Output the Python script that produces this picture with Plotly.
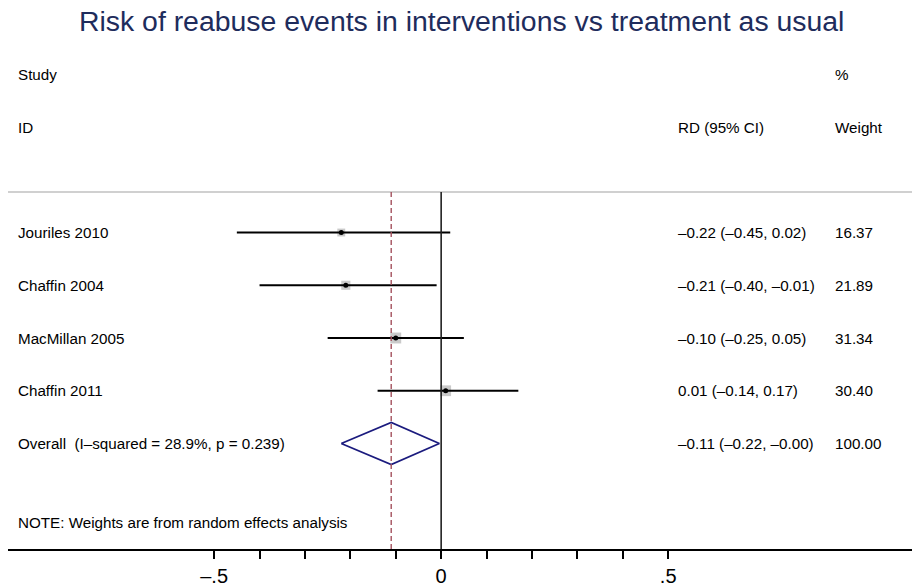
import plotly.graph_objects as go

studies = ["Jouriles 2010", "Chaffin 2004", "MacMillan 2005", "Chaffin 2011"]
est = [-0.22, -0.21, -0.10, 0.01]
lo = [-0.45, -0.40, -0.25, -0.14]
hi = [0.02, -0.01, 0.05, 0.17]
weights = [16.37, 21.89, 31.34, 30.40]
overall_label = "Overall  (I\u2013squared = 28.9%, p = 0.239)"
overall_est = -0.11
overall_lo = -0.22
overall_hi = -0.004
overall_weight = 100.00
tick_vals = [-0.5, 0, 0.5]
tick_text = ["\u2013.5", "0", ".5"]
minor_vals = [-0.4, -0.3, -0.2, -0.1, 0.1, 0.2, 0.3, 0.4]
title = "Risk of reabuse events in interventions vs treatment as usual"
note = "NOTE: Weights are from random effects analysis"

FONT = "Liberation Sans, Arial, Helvetica, sans-serif"
rows = list(range(len(studies)))
overall_row = len(studies)


def fmt(v):
    return f"{v:.2f}".replace("-", "\u2013")


fig = go.Figure()

# weight boxes
fig.add_trace(go.Scatter(
    x=est, y=rows, mode="markers",
    marker=dict(symbol="square", color="#b4b4b4",
                size=[1.95 * (w ** 0.5) for w in weights], line=dict(width=0)),
    hoverinfo="skip", showlegend=False))

# CI lines
cx, cy = [], []
for r, a, b in zip(rows, lo, hi):
    cx += [a, b, None]
    cy += [r, r, None]
fig.add_trace(go.Scatter(x=cx, y=cy, mode="lines",
                         line=dict(color="black", width=2),
                         hoverinfo="skip", showlegend=False))

# point estimates
fig.add_trace(go.Scatter(x=est, y=rows, mode="markers",
                         marker=dict(symbol="circle", color="black", size=5),
                         hoverinfo="skip", showlegend=False))

# overall diamond
h = 0.4
fig.add_trace(go.Scatter(
    x=[overall_lo, overall_est, overall_hi, overall_est, overall_lo],
    y=[overall_row, overall_row - h, overall_row, overall_row + h, overall_row],
    mode="lines", line=dict(color="#1b1b7e", width=1.8),
    hoverinfo="skip", showlegend=False))

top_line = -0.768
bottom = 6.0

shapes = [
    dict(type="line", xref="paper", yref="y", x0=0, x1=1, y0=top_line, y1=top_line,
         line=dict(color="#d0d0d0", width=2)),
    dict(type="line", xref="x", yref="y", x0=0, x1=0, y0=top_line, y1=bottom,
         line=dict(color="#222222", width=1.6)),
    dict(type="line", xref="x", yref="y", x0=overall_est, x1=overall_est,
         y0=top_line, y1=bottom, line=dict(color="#a4525e", width=1.4, dash="5px,3px")),
]

ann = []
xl, xc, xw = 0.0088, 0.739, 0.9126


def text(x, y, t):
    ann.append(dict(x=x, y=y, xref="paper", yref="y", text=t, showarrow=False,
                    xanchor="left", yanchor="middle",
                    font=dict(family=FONT, size=15.2, color="black")))


text(xl, -3, "Study")
text(xw, -3, "%")
text(xl, -2, "ID")
text(xc, -2, "RD (95% CI)")
text(xw, -2, "Weight")
for r, s, e, a, b, w in zip(rows, studies, est, lo, hi, weights):
    text(xl, r, s)
    text(xc, r, f"{fmt(e)} ({fmt(a)}, {fmt(b)})")
    text(xw, r, f"{w:.2f}")
text(xl, overall_row, overall_label)
text(xc, overall_row, f"{fmt(overall_est)} ({fmt(overall_lo)}, {fmt(overall_hi)})")
text(xw, overall_row, f"{overall_weight:.2f}")
text(xl, 5.5, note)

ann.append(dict(x=0.502, y=1, xref="paper", yref="paper", yanchor="top",
                xanchor="center", yshift=47, text=title, showarrow=False,
                font=dict(family=FONT, size=28.4, color="#1e2c5c")))

fig.update_layout(
    width=912, height=587,
    margin=dict(l=8, r=0, t=50, b=38),
    paper_bgcolor="white", plot_bgcolor="white",
    shapes=shapes, annotations=ann,
    xaxis=dict(range=[-0.954, 1.037], showgrid=False, zeroline=False,
               showline=True, linecolor="black", linewidth=2,
               ticks="outside", ticklen=8, tickwidth=2, tickcolor="black",
               tickvals=tick_vals, ticktext=tick_text,
               tickfont=dict(family=FONT, size=20, color="black"),
               minor=dict(tickvals=minor_vals, ticks="outside", ticklen=8,
                          tickwidth=1.5, tickcolor="black")),
    yaxis=dict(range=[6.0, -3.46], visible=False, showgrid=False, zeroline=False),
)

fig.write_html("out.html", config={"displayModeBar": False},
               post_script="document.body.style.margin='0';document.body.style.overflow='hidden';")
